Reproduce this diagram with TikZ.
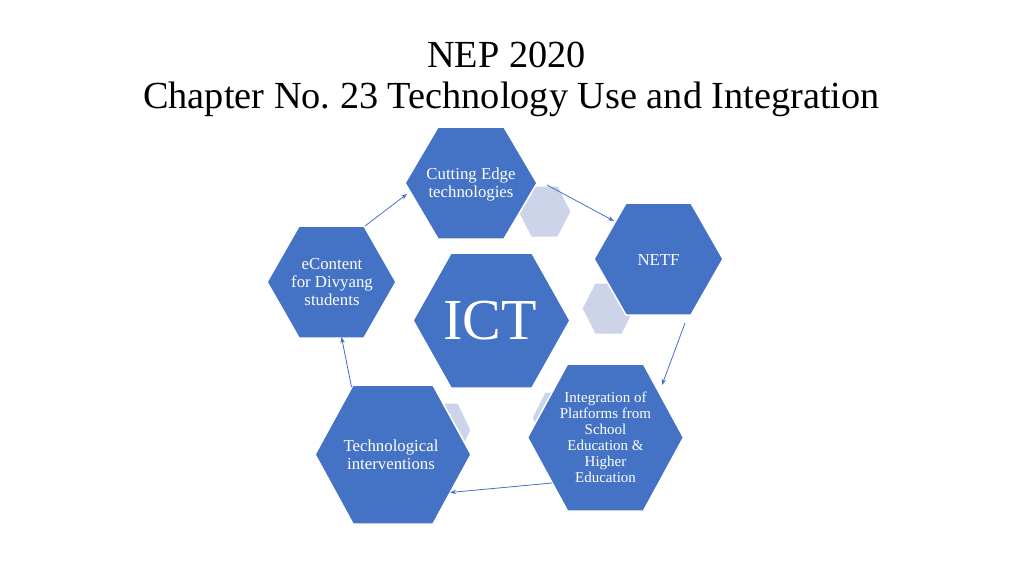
\documentclass[tikz,border=0pt]{standalone}
\usepackage{fontspec}
\setmainfont{Liberation Serif}
\usetikzlibrary{arrows.meta}
\frenchspacing
\definecolor{hexblue}{RGB}{68,114,196}
\definecolor{hexlight}{RGB}{205,212,234}
\newcommand{\hexa}[6]{%
  \path[#1] (#2-#4,#3) -- (#2-#4+#6,#3-#5) -- (#2+#4-#6,#3-#5) -- (#2+#4,#3)
    -- (#2+#4-#6,#3+#5) -- (#2-#4+#6,#3+#5) -- cycle;}
\tikzset{
  bighex/.style={fill=hexblue, draw=white, line width=1.5pt, line join=miter},
  lighthex/.style={fill=hexlight, draw=white, line width=1pt},
  hextext/.style={text=white, align=center, font=\fontsize{16.8}{18}\selectfont, inner sep=0pt},
  titletext/.style={anchor=base, font=\fontsize{38.3}{42}\selectfont, inner sep=0pt},
  arr/.style={draw=hexblue, line width=0.8pt, -{Stealth[length=6pt,width=4.5pt]}}
}
\begin{document}
\begin{tikzpicture}[x=1pt,y=-1pt]
\useasboundingbox (0,0) rectangle (1024,575);
% title
\node[titletext] (t1) at (506.5,67.3) {NEP 2020};
\node[titletext] (t2) at (511.5,109) {Chapter No. 23 Technology Use and Integration};
% light hexagons
\hexa{lighthex}{544.5}{211.5}{26.5}{25.5}{13}
\hexa{lighthex}{608.5}{308.5}{26.5}{25.5}{13}
\hexa{lighthex}{558.5}{418}{26.5}{26}{13}
\hexa{lighthex}{444.5}{430}{26.5}{27}{13}
% big hexagons
\hexa{bighex}{471}{183}{66}{56}{33}
\hexa{bighex}{658.5}{259}{64.5}{56}{32}
\hexa{bighex}{331.5}{282}{64.5}{56}{32}
\hexa{bighex}{491.5}{320.5}{78.5}{67.5}{38}
\hexa{bighex}{393}{454.5}{78}{69.5}{38}
\hexa{bighex}{605.5}{437.5}{78}{73.5}{40}
% labels
\node[hextext] (ce) at (471,184) {Cutting Edge\\technologies};
\node[hextext] (netf) at (658.5,260) {NETF};
\node[hextext] (ec) at (332,282) {eContent\\for Divyang\\students};
\node[hextext, font=\fontsize{58}{60}\selectfont] (ict) at (490,321) {ICT};
\node[hextext] (ti) at (391,455) {Technological\\interventions};
\node[hextext, font=\fontsize{15}{16}\selectfont] (ip) at (605.5,437) {Integration of\\Platforms from\\School\\Education \&\\Higher\\Education};
% connector end points
\coordinate (ce-out) at (547,185);
\coordinate (netf-in) at (614,221);
\coordinate (netf-out) at (685,323);
\coordinate (ip-in) at (662,385);
\coordinate (ip-out) at (552,483);
\coordinate (ti-in) at (450,492.5);
\coordinate (ti-out) at (351.5,387);
\coordinate (ec-in) at (341.5,337);
\coordinate (ec-out) at (365,226);
\coordinate (ce-in) at (407,194);
\draw[arr] (ce-out) -- (netf-in);
\draw[arr] (netf-out) -- (ip-in);
\draw[arr] (ip-out) -- (ti-in);
\draw[arr] (ti-out) -- (ec-in);
\draw[arr] (ec-out) -- (ce-in);
\end{tikzpicture}
\end{document}
